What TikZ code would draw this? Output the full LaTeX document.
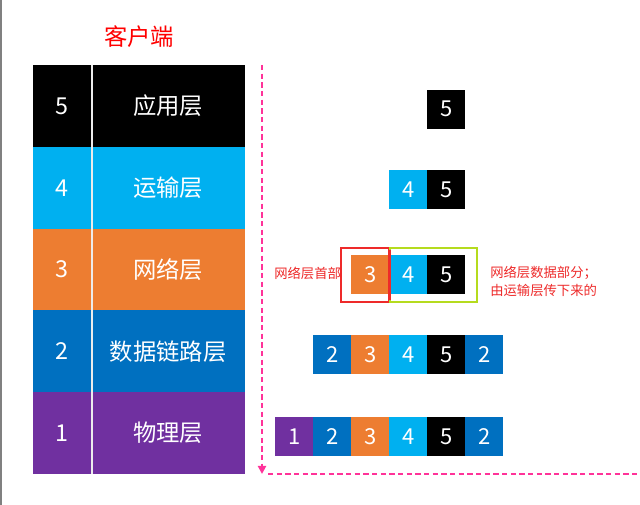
\documentclass[tikz,border=0pt]{standalone}
\usepackage{fontspec}
\setmainfont{Noto Sans CJK SC}
\usetikzlibrary{arrows.meta}
\definecolor{lblack}{HTML}{000000}
\definecolor{lcyan}{HTML}{00B0F0}
\definecolor{lorange}{HTML}{ED7D31}
\definecolor{lblue}{HTML}{0070C0}
\definecolor{lpurple}{HTML}{7030A0}
\definecolor{pinkd}{HTML}{FF3399}
\definecolor{redt}{HTML}{FF0000}
\definecolor{redl}{HTML}{EE2A2A}
\definecolor{limeb}{HTML}{B5DB1E}
\begin{document}
\begin{tikzpicture}[x=0.75pt,y=-0.75pt,
  cell/.style={minimum width=38*0.75pt,minimum height=39*0.75pt,inner sep=0pt,text=white,font=\fontsize{16.5}{16.5}\selectfont,anchor=north west},
  tnum/.style={inner sep=0pt,text=white,font=\fontsize{17.5}{17.5}\selectfont},
  tname/.style={inner sep=0pt,text=white,font=\fontsize{17.5}{17.5}\selectfont},
  note/.style={inner sep=0pt,text=redl,font=\fontsize{10}{13.5}\selectfont,align=left}]
\useasboundingbox (0,0) rectangle (640,505);
\fill[white] (0,0) rectangle (640,505);
\draw[gray,line width=1.2pt] (0.8,0) -- (0.8,505);
% title
\node[inner sep=0pt,text=redt,font=\fontsize{17.5}{17.5}\selectfont] (title) at (139,37) {客户端};
% table rows
\foreach \i/\c/\n/\t in {0/lblack/5/应用层,1/lcyan/4/运输层,2/lorange/3/网络层,3/lblue/2/数据链路层,4/lpurple/1/物理层}{
  \fill[\c] (33,65+81.8*\i) rectangle (245,65+81.8*\i+81.8);
  \node[tnum] (num\n) at (62,106+81.8*\i) {\n};
  \node[tname] (name\n) at (168,106+81.8*\i) {\t};
}
\draw[white!85!gray,line width=1pt] (92,65) -- (92,474);
% dashed pink guides
\coordinate (vtop) at (262,65);
\coordinate (vbot) at (262,474);
\coordinate (hl) at (268,474);
\coordinate (hr) at (640,474);
\draw[pinkd,line width=1.7pt,dash pattern=on 4pt off 2.5pt,-{Triangle[length=6pt,width=6pt]}] (vtop) -- (vbot);
\draw[pinkd,line width=1.7pt,dash pattern=on 4pt off 2.5pt] (hl) -- (hr);
% row 5
\node[cell,fill=lblack] (a5) at (427,89.5) {5};
% row 4
\node[cell,fill=lcyan] (b4) at (389,170) {4};
\node[cell,fill=lblack] (b5) at (427,170) {5};
% row 3
\node[cell,fill=lorange] (c3) at (351,255) {3};
\node[cell,fill=lcyan] (c4) at (389,255) {4};
\node[cell,fill=lblack] (c5) at (427,255) {5};
\draw[redl,line width=1.5pt] (341,248.5) rectangle (389,302);
\draw[limeb,line width=1.5pt] (389.5,248.5) rectangle (477,302);
\draw[redl,line width=1pt] (390,250) -- (390,300);
\node[note,anchor=west] (hdr) at (274,273) {网络层首部};
\node[note,anchor=west] (dat) at (490,281) {网络层数据部分；\\由运输层传下来的};
% row 2
\node[cell,fill=lblue] (d2a) at (313,335) {2};
\node[cell,fill=lorange] (d3) at (351,335) {3};
\node[cell,fill=lcyan] (d4) at (389,335) {4};
\node[cell,fill=lblack] (d5) at (427,335) {5};
\node[cell,fill=lblue] (d2b) at (465,335) {2};
% row 1
\node[cell,fill=lpurple] (e1) at (275,417) {1};
\node[cell,fill=lblue] (e2a) at (313,417) {2};
\node[cell,fill=lorange] (e3) at (351,417) {3};
\node[cell,fill=lcyan] (e4) at (389,417) {4};
\node[cell,fill=lblack] (e5) at (427,417) {5};
\node[cell,fill=lblue] (e2b) at (465,417) {2};
\end{tikzpicture}
\end{document}
